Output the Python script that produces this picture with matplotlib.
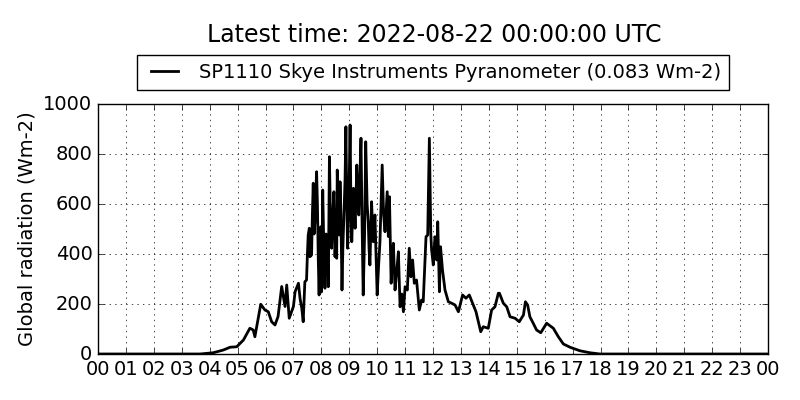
import numpy as np
import matplotlib
matplotlib.use("Agg")
import matplotlib.pyplot as plt

title = "Latest time: 2022-08-22 00:00:00 UTC"
series_label = "SP1110 Skye Instruments Pyranometer (0.083 Wm-2)"
ylabel = "Global radiation (Wm-2)"
hour_labels = ["%02d" % (h % 24) for h in range(25)]

# decimal hours and readings (Wm-2)
hours = [0.0, 1.0, 2.0, 3.0, 3.65, 4.13, 4.49, 4.73, 4.97, 5.21, 5.44, 5.56,
         5.62, 5.83, 5.98, 6.10, 6.22, 6.34, 6.45, 6.58, 6.70, 6.76, 6.85,
         7.00, 7.06, 7.18, 7.24, 7.30, 7.35, 7.41, 7.47, 7.50, 7.53, 7.57,
         7.59, 7.65, 7.68, 7.71, 7.74, 7.77, 7.80, 7.83, 7.86, 7.89, 7.92,
         7.95, 7.98, 8.01, 8.05, 8.09, 8.13, 8.17, 8.21, 8.25, 8.29, 8.33,
         8.37, 8.41, 8.45, 8.49, 8.53, 8.55, 8.57, 8.61, 8.64, 8.67, 8.70,
         8.74, 8.77, 8.81, 8.85, 8.88, 8.91, 8.94, 8.98, 9.03, 9.06, 9.09,
         9.12, 9.15, 9.18, 9.21, 9.24, 9.27, 9.31, 9.34, 9.38, 9.42, 9.46,
         9.50, 9.55, 9.59, 9.64, 9.68, 9.71, 9.74, 9.77, 9.80, 9.83, 9.86,
         9.89, 9.92, 9.96, 10.00, 10.05, 10.10, 10.14, 10.18, 10.23, 10.28,
         10.36, 10.40, 10.44, 10.50, 10.54, 10.58, 10.64, 10.70, 10.76,
         10.82, 10.88, 10.94, 11.00,
         11.08, 11.15, 11.21, 11.27, 11.33, 11.41, 11.51, 11.59, 11.65,
         11.75, 11.81, 11.87, 11.92, 11.95, 12.01, 12.07, 12.13, 12.17,
         12.23, 12.27, 12.34, 12.43, 12.55, 12.67, 12.79, 12.91, 13.06,
         13.18, 13.30, 13.42, 13.54, 13.71, 13.80, 13.98, 14.10, 14.22,
         14.34, 14.38, 14.52, 14.64, 14.76, 14.94, 15.09, 15.24, 15.31,
         15.39, 15.47, 15.59, 15.71, 15.86, 16.07, 16.31, 16.49, 16.67,
         16.91, 17.26, 17.62, 17.98, 19.0, 21.0, 23.0, 24.0]
radiation = [0, 0, 0, 0, 0, 5, 16, 27, 29, 56, 103, 96,
             69, 199, 176, 169, 129, 116, 150, 270, 190, 276, 143,
             190, 249, 283, 220, 183, 129, 289, 296, 396, 476, 503,
             389, 396, 560, 683, 480, 529, 640, 729, 600, 380, 236,
             430, 509, 249, 656, 420, 263, 480, 449, 269, 789, 520,
             423, 560, 649, 389, 520, 383, 736, 520, 476, 689, 560,
             256, 420, 556, 700, 909, 620, 423, 560, 916, 600, 449,
             560, 663, 590, 503, 620, 756, 640, 556, 700, 863, 520,
             236, 480, 849, 600, 529, 420, 356, 480, 609, 520, 449,
             500, 556, 400, 236, 350, 449, 600, 756, 560, 489,
             649, 470, 629, 283, 380, 443, 256, 330, 409,
             189, 240, 169, 269,
             256, 423, 309, 376, 283, 296, 176, 216, 209,
             469, 476, 863, 483, 416, 356, 469, 376, 529,
             249, 429, 336, 256, 209, 203, 196, 169, 236,
             223, 236, 203, 169, 89, 109, 103, 176, 189,
             243, 243, 203, 189, 149, 143, 129, 156, 209,
             196, 149, 123, 96, 85, 123, 103, 69, 40,
             27, 13, 5, 0, 0, 0, 0, 0]

plt.style.use("classic")
fig = plt.figure(figsize=(8, 4), dpi=100, facecolor="white")
ax = fig.add_axes([0.1225, 0.115, 0.8375, 0.625])

ax.plot(hours, radiation, color="black", lw=2, label=series_label)

ax.set_xlim(0, 24)
ax.set_ylim(0, 1000)
ax.set_xticks(np.arange(25))
ax.set_xticklabels(hour_labels)
ax.set_yticks(np.arange(0, 1001, 200))
ax.tick_params(labelsize=14)
ax.grid(True)
ax.set_ylabel(ylabel, fontsize=14)

leg = ax.legend(loc="lower center", bbox_to_anchor=(0.5, 1.056), fontsize=14,
                ncol=1, borderaxespad=0.0, handlelength=2)
fig.text(0.5425, 0.912, title, ha="center", va="center", fontsize=17)

fig.savefig("out.png", dpi=100, facecolor="white")
